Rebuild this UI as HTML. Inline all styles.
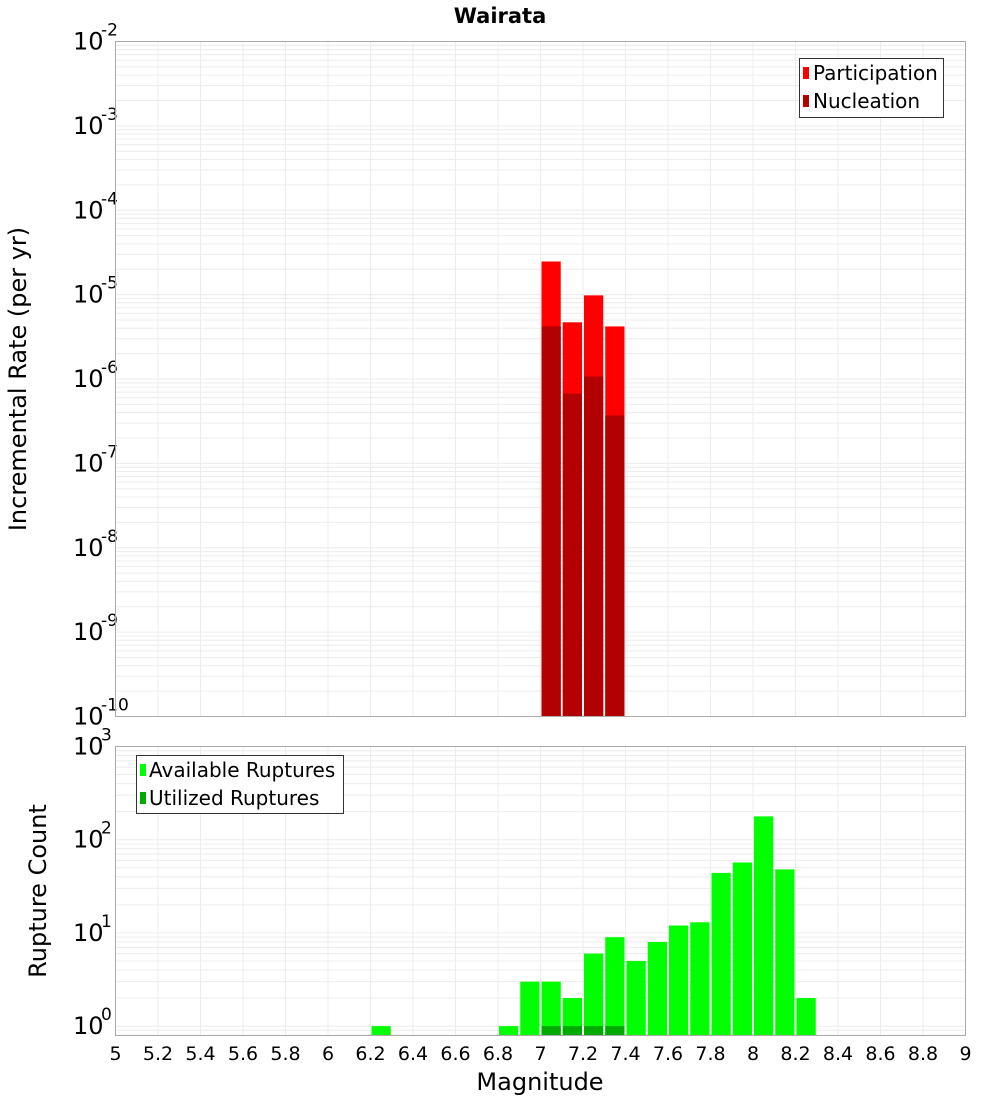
<!DOCTYPE html>
<html><head><meta charset="utf-8"><style>
body{margin:0;background:#fff;}
svg{display:block;font-family:"DejaVu Sans","Liberation Sans",sans-serif;}
</style></head><body>
<svg id="c" width="1000" height="1100" xmlns="http://www.w3.org/2000/svg">
<text x="500" y="23" text-anchor="middle" font-size="21" font-weight="bold">Wairata</text>
<g id="top"></g>
<g id="bot"></g>
<text transform="translate(26,379) rotate(-90)" text-anchor="middle" font-size="24">Incremental Rate (per yr)</text>
<text transform="translate(46,891) rotate(-90)" text-anchor="middle" font-size="24">Rupture Count</text>
<text x="540" y="1090" text-anchor="middle" font-size="24">Magnitude</text>
<g>
<rect x="799.5" y="58.5" width="144" height="59" fill="#fff" stroke="#333"/>
<rect x="803" y="67" width="6" height="12" fill="#ff0000"/>
<text x="813" y="80" font-size="20">Participation</text>
<rect x="803" y="95" width="6" height="12" fill="#b30000"/>
<text x="813" y="108" font-size="20">Nucleation</text>
</g>
<g>
<rect x="136.5" y="755.5" width="207" height="58" fill="#fff" stroke="#333"/>
<rect x="140" y="764" width="6" height="12" fill="#00ff00"/>
<text x="149" y="777" font-size="20">Available Ruptures</text>
<rect x="140" y="792" width="6" height="12" fill="#00aa00"/>
<text x="149" y="805" font-size="20">Utilized Ruptures</text>
</g>
</svg>
<script>
const rateBins=[7.05,7.15,7.25,7.35];
const participation=[2.47e-5,4.7e-6,9.8e-6,4.2e-6];
const nucleation=[4.2e-6,6.7e-7,1.07e-6,3.7e-7];
const countBins=[6.25,6.85,6.95,7.05,7.15,7.25,7.35,7.45,7.55,7.65,7.75,7.85,7.95,8.05,8.15,8.25];
const available=[1,1,3,3,2,6,9,5,8,12,13,44,57,178,48,2];
const utilBins=[7.05,7.15,7.25,7.35];
const utilized=[1,1,1,1];
const xTicks=[5,5.2,5.4,5.6,5.8,6,6.2,6.4,6.6,6.8,7,7.2,7.4,7.6,7.8,8,8.2,8.4,8.6,8.8,9];
const rateExp=[-10,-9,-8,-7,-6,-5,-4,-3,-2];
const countExp=[0,1,2,3];

const NS='http://www.w3.org/2000/svg';
const X0=115.5,X1=965.5;
const xs=m=>X0+(m-5)/4*(X1-X0);
function mk(p,t,a){const e=document.createElementNS(NS,t);for(const k in a)e.setAttribute(k,a[k]);p.appendChild(e);return e;}
function panel(g,top,bot,ymin,ymax,decPx,exps,name){
  const ys=v=>bot-(Math.log10(v)-ymin)*decPx;
  mk(g,'rect',{x:X0,y:top,width:X1-X0,height:bot-top,fill:'#fff'});
  for(let d=Math.floor(ymin);d<ymax;d++)for(let k=1;k<10;k++){const y=ys(k*Math.pow(10,d));if(y<top-0.5||y>bot+0.5)continue;
    const l=mk(g,'line',{x1:X0,x2:X1,y1:y,y2:y,stroke:'#ececec','stroke-width':1});}
  xTicks.forEach(t=>{const x=xs(t);const l=mk(g,'line',{x1:x,x2:x,y1:top,y2:bot,stroke:'#ececec'});});
  exps.forEach(e=>{const y=ys(Math.pow(10,e));const t=mk(g,'text',{x:73,y:y+8,'font-size':24});t.textContent='10';
    
    const s=mk(g,'text',{x:101,y:y-6,'font-size':17});s.textContent=String(e);
    });
  return ys;
}
function bars(g,ys,bins,vals,col,bot,name){
  bins.forEach((b,i)=>{const x=xs(b-0.05)+1,w=xs(b+0.05)-xs(b-0.05)-2,y=ys(vals[i]);
    const r=mk(g,'rect',{x:x,y:y,width:w,height:bot-y,fill:col});
    });
}
const gt=document.getElementById('top'),gb=document.getElementById('bot');
const T0=41.5,T1=716.5;
const ysT=panel(gt,T0,T1,-10,-2,(T1-T0)/8,rateExp,'rate');
bars(gt,ysT,rateBins,participation,'#ff0000',T1,'participation');
bars(gt,ysT,rateBins,nucleation,'#b30000',T1,'nucleation');
mk(gt,'rect',{x:X0,y:T0,width:X1-X0,height:T1-T0,fill:'none',stroke:'#aaa'});
const B0=746.5,B1=1035.5,BD=93.2;
const yminB=3-(B1-B0)/BD;
const ysB=panel(gb,B0,B1,yminB,3,BD,countExp,'count');
bars(gb,ysB,countBins,available,'#00ff00',B1,'available');
bars(gb,ysB,utilBins,utilized,'#00aa00',B1,'utilized');
mk(gb,'rect',{x:X0,y:B0,width:X1-X0,height:B1-B0,fill:'none',stroke:'#aaa'});
xTicks.forEach(t=>{const e=mk(gb,'text',{x:xs(t),y:1060,'font-size':19,'text-anchor':'middle'});e.textContent=String(t);
  });
</script>
</body></html>
